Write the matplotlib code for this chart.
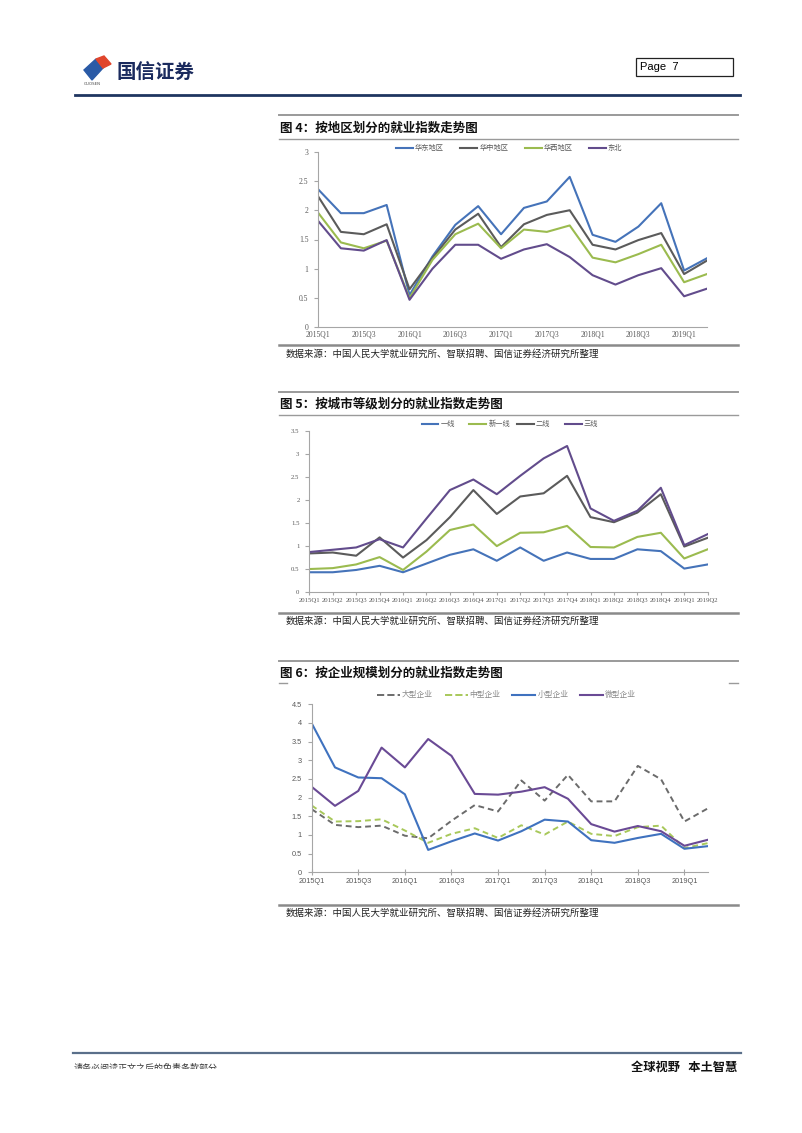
import matplotlib
matplotlib.use("Agg")
import matplotlib.pyplot as plt
from matplotlib.patches import Polygon, Rectangle
from matplotlib.lines import Line2D

plt.rcParams['font.family'] = ['Noto Sans CJK SC', 'DejaVu Sans']

W, H = 802, 1133

# ---- data ----
quarters = ['2015Q1', '2015Q2', '2015Q3', '2015Q4', '2016Q1', '2016Q2', '2016Q3', '2016Q4',
            '2017Q1', '2017Q2', '2017Q3', '2017Q4', '2018Q1', '2018Q2', '2018Q3', '2018Q4',
            '2019Q1', '2019Q2']

# 图4 按地区
huadong = [2.36, 1.95, 1.95, 2.09, 0.55, 1.21, 1.75, 2.07, 1.59, 2.04, 2.15, 2.57,
           1.58, 1.46, 1.72, 2.12, 0.97, 1.18]
huazhong = [2.24, 1.63, 1.59, 1.76, 0.65, 1.18, 1.67, 1.94, 1.37, 1.76, 1.92, 2.00,
            1.41, 1.33, 1.49, 1.61, 0.91, 1.14]
huaxi = [1.96, 1.45, 1.35, 1.48, 0.50, 1.15, 1.59, 1.77, 1.35, 1.67, 1.63, 1.74,
         1.19, 1.11, 1.25, 1.41, 0.77, 0.91]
dongbei = [1.82, 1.35, 1.31, 1.49, 0.47, 1.00, 1.41, 1.41, 1.17, 1.33, 1.42, 1.20,
           0.89, 0.73, 0.89, 1.01, 0.53, 0.66]

# 图5 按城市等级
tier1 = [0.43, 0.43, 0.48, 0.57, 0.43, 0.62, 0.81, 0.93, 0.68, 0.97, 0.68, 0.86,
         0.72, 0.72, 0.93, 0.89, 0.51, 0.60]
new_tier1 = [0.50, 0.52, 0.60, 0.76, 0.48, 0.88, 1.35, 1.47, 1.00, 1.29, 1.30, 1.44,
             0.98, 0.97, 1.20, 1.29, 0.73, 0.93]
tier2 = [0.84, 0.86, 0.79, 1.19, 0.75, 1.13, 1.63, 2.22, 1.70, 2.08, 2.15, 2.53,
         1.63, 1.52, 1.73, 2.13, 0.99, 1.18]
tier3 = [0.87, 0.92, 0.97, 1.15, 0.97, 1.60, 2.22, 2.45, 2.13, 2.53, 2.91, 3.18,
         1.82, 1.55, 1.77, 2.27, 1.02, 1.26]

# 图6 按企业规模
large = [1.69, 1.27, 1.21, 1.25, 0.98, 0.91, 1.38, 1.80, 1.63, 2.46, 1.92, 2.61,
         1.90, 1.90, 2.85, 2.49, 1.36, 1.71]
medium = [1.79, 1.36, 1.37, 1.42, 1.12, 0.79, 1.03, 1.18, 0.92, 1.26, 1.01, 1.36,
          1.03, 0.97, 1.21, 1.25, 0.65, 0.78]
small = [3.99, 2.81, 2.54, 2.52, 2.09, 0.60, 0.83, 1.04, 0.85, 1.10, 1.41, 1.36,
         0.86, 0.79, 0.92, 1.03, 0.63, 0.70]
micro = [2.29, 1.78, 2.18, 3.34, 2.81, 3.57, 3.12, 2.10, 2.08, 2.16, 2.28, 1.97,
         1.29, 1.09, 1.24, 1.10, 0.71, 0.87]

source = '数据来源：中国人民大学就业研究所、智联招聘、国信证券经济研究所整理'

BLUE = '#4573b9'
GRAY = '#5b5b5b'
GREEN = '#9bbb4f'
PURPLE = '#624c8c'
TXT = '#595959'

fig = plt.figure(figsize=(W / 100, H / 100), dpi=100)


def fx(x):
    return x / W


def fy(y):
    return 1 - y / H


def hline(y, x0, x1, color, lw, ls='-'):
    fig.add_artist(Line2D([fx(x0), fx(x1)], [fy(y), fy(y)], color=color, lw=lw, ls=ls))


def add_ax(x0, ytop, x1, ybot):
    return fig.add_axes([fx(x0), fy(ybot), (x1 - x0) / W, (ybot - ytop) / H])


def legend_row(lines, y, x0, step, hlen, fontsize, color):
    # one key per line, equal slots like the Excel legend
    for i, ln in enumerate(lines):
        xs = x0 + i * step
        hline(y, xs, xs + hlen, ln.get_color(), ln.get_linewidth(), ln.get_linestyle())
        fig.text(fx(xs + hlen + 2), fy(y), ln.get_label(), fontsize=fontsize, color=color,
                 va='center', ha='left')


def style_axes(ax, ymax, family, size, every, ticklen):
    n = len(quarters)
    ax.set_xlim(0, n - 1)
    ax.set_ylim(0, ymax)
    yt = [i * 0.5 for i in range(int(ymax * 2) + 1)]
    ax.set_yticks(yt)
    ax.set_yticklabels(['%g' % v for v in yt])
    ax.set_xticks(list(range(n))[::every])
    ax.set_xticklabels(quarters[::every])
    for s in ['top', 'right']:
        ax.spines[s].set_visible(False)
    for s in ['left', 'bottom']:
        ax.spines[s].set_color('#a6a6a6')
        ax.spines[s].set_linewidth(0.8)
    ax.tick_params(axis='both', colors='#a6a6a6', labelcolor=TXT, width=0.8)
    ax.tick_params(axis='y', length=3, pad=4)
    ax.tick_params(axis='x', length=ticklen, pad=2)
    for lab in ax.get_xticklabels() + ax.get_yticklabels():
        lab.set_fontfamily(family)
        lab.set_fontsize(size)
    ax.patch.set_alpha(0)


def section(ytop, ytitle, yunder, ybot, ysrc, title):
    hline(ytop, 279, 738, '#9a9a9a', 1.4)
    fig.text(fx(280), fy(ytitle), title, fontsize=9, fontweight='bold',
             color='#111111', va='center', ha='left')
    if yunder is not None:
        hline(yunder, 279, 738, '#9a9a9a', 1.0)
    hline(ybot, 279, 738, '#8a8a8a', 1.8)
    fig.text(fx(286), fy(ysrc), source, fontsize=6.8, color='#222222',
             va='center', ha='left')


x = list(range(len(quarters)))

# ---- header ----
fig.add_artist(Polygon([[fx(84), fy(70)], [fx(96), fy(59)], [fx(103), fy(68)], [fx(92), fy(80)]],
                       closed=True, color='#2a5aa6'))
fig.add_artist(Polygon([[fx(96), fy(59)], [fx(104), fy(56)], [fx(111), fy(64)], [fx(103), fy(68)]],
                       closed=True, color='#e0452c'))
fig.text(fx(84), fy(85), 'GUOSEN', fontsize=2.8, color='#444444', family='DejaVu Sans')
fig.text(fx(116), fy(73), '国信证券', fontsize=14, fontweight='bold', color='#1b2b5e',
         va='center', ha='left')
fig.add_artist(Rectangle((fx(636), fy(76)), 97 / W, 18 / H, fill=False, ec='#222222', lw=0.9))
fig.text(fx(640), fy(66.5), 'Page  7', fontsize=8, family='Liberation Sans', va='center')
hline(94.5, 75, 740, '#1f3560', 2.0)

# ---- 图4 ----
section(115, 128, 139, 344.5, 354.5, '图 4：按地区划分的就业指数走势图')
ax1 = add_ax(318, 151.7, 707, 327.3)
l1 = []
for ys, c, lab in [(huadong, BLUE, '华东地区'), (huazhong, GRAY, '华中地区'),
                   (huaxi, GREEN, '华西地区'), (dongbei, PURPLE, '东北')]:
    l1 += ax1.plot(x, ys, color=c, lw=1.5, label=lab)
style_axes(ax1, 3, 'Liberation Serif', 5.5, 2, 0)
legend_row(l1, 148, 396, 64.3, 17, 5.2, TXT)

# ---- 图5 ----
section(392, 404, 414.5, 612.5, 621.5, '图 5：按城市等级划分的就业指数走势图')
ax2 = add_ax(309.3, 431.3, 707.7, 592)
l2 = []
for ys, c, lab in [(tier1, BLUE, '一线'), (new_tier1, GREEN, '新一线'),
                   (tier2, GRAY, '二线'), (tier3, PURPLE, '三线')]:
    l2 += ax2.plot(x, ys, color=c, lw=1.5, label=lab)
style_axes(ax2, 3.5, 'Liberation Serif', 4.9, 1, 2.5)
legend_row(l2, 424, 421.5, 47.8, 17, 5.2, TXT)

# ---- 图6 ----
section(661, 673, None, 905, 913.5, '图 6：按企业规模划分的就业指数走势图')
hline(682.7, 279, 287, '#9a9a9a', 1.0)
hline(682.7, 729, 738, '#9a9a9a', 1.0)
ax3 = add_ax(311.7, 704.3, 707.7, 872.3)
l3 = []
l3 += ax3.plot(x, large, color='#6b6b6b', lw=1.4, ls=(0, (3, 2)), label='大型企业')
l3 += ax3.plot(x, medium, color='#a8c85a', lw=1.4, ls=(0, (3, 2)), label='中型企业')
l3 += ax3.plot(x, small, color='#3f72bf', lw=1.5, label='小型企业')
l3 += ax3.plot(x, micro, color='#6a4a95', lw=1.5, label='微型企业')
style_axes(ax3, 4.5, 'Liberation Sans', 5.3, 2, 3.5)
ax3.tick_params(axis='x', direction='inout', length=4)
legend_row(l3, 695, 377, 67.7, 23, 5.6, '#8a8a8a')

# ---- footer ----
hline(1053, 73, 741, '#5a6f8a', 1.6)
fig.text(fx(74), fy(1068), '请务必阅读正文之后的免责条款部分', fontsize=6.5, color='#333333',
         va='center', ha='left')
fig.add_artist(Rectangle((fx(70), fy(1076)), 260 / W, 7.5 / H, color='white', zorder=10))
fig.text(fx(737), fy(1067), '全球视野   本土智慧', fontsize=8.8, fontweight='bold',
         color='#111111', va='center', ha='right')

fig.savefig('out.png', dpi=100)
